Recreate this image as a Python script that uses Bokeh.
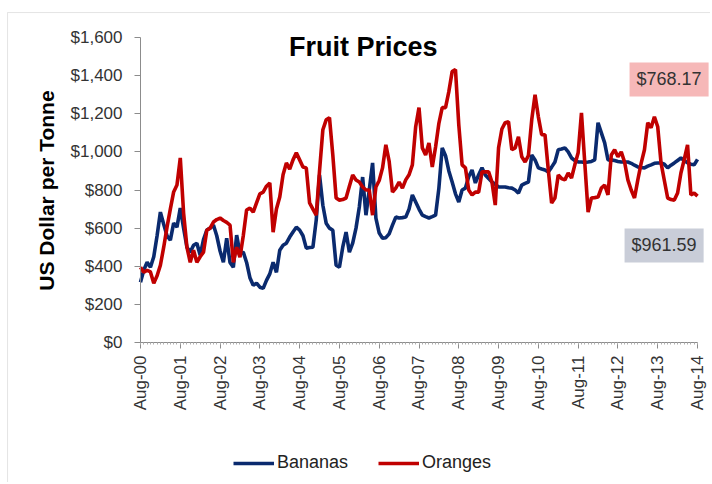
from bokeh.plotting import figure
from bokeh.models import (Range1d, FixedTicker, NumeralTickFormatter, Legend, LegendItem, Label, BoxAnnotation,
                          ColumnDataSource)
from bokeh.core.properties import value
from bokeh.embed import file_html
from bokeh.resources import INLINE
import math

# ---- data (monthly, Aug-2000 .. Aug-2014) ----
bananas = [316, 380, 421, 395, 450, 560, 684, 620, 560, 537, 626, 605, 705, 600, 500, 474, 510, 521, 458, 540,
           590, 600, 616, 560, 480, 421, 547, 420, 395, 563, 468, 474, 420, 340, 300, 311, 290, 284, 326, 360,
           421, 368, 484, 510, 521, 553, 580, 605, 590, 560, 495, 498, 500, 642, 879, 720, 626, 600, 589, 405,
           395, 500, 579, 474, 521, 600, 711, 868, 668, 800, 942, 653, 574, 547, 550, 570, 616, 658, 653, 655,
           658, 700, 774, 737, 700, 668, 660, 653, 660, 668, 810, 1021, 980, 900, 842, 780, 737, 800, 810, 870,
           905, 837, 880, 916, 879, 860, 842, 830, 816, 816, 816, 812, 810, 800, 784, 826, 835, 842, 984, 958,
           916, 910, 905, 895, 920, 947, 1011, 1015, 1021, 1000, 968, 955, 947, 947, 945, 947, 950, 958, 1153, 1100,
           1047, 958, 958, 955, 950, 947, 947, 947, 940, 930, 921, 918, 916, 925, 932, 940, 942, 942, 935, 916,
           930, 942, 955, 968, 955, 942, 935, 932, 961]
oranges = [395, 368, 379, 370, 311, 350, 405, 500, 605, 700, 790, 826, 968, 679, 500, 421, 484, 421, 450, 474,
           589, 600, 632, 645, 653, 640, 630, 616, 421, 500, 447, 560, 695, 705, 684, 732, 780, 789, 820, 837,
           579, 700, 763, 880, 942, 910, 958, 995, 958, 921, 916, 732, 700, 668, 900, 1116, 1168, 1179, 984, 758,
           747, 750, 758, 820, 879, 853, 842, 816, 800, 800, 668, 816, 850, 916, 1037, 950, 789, 810, 842, 810,
           853, 880, 932, 1132, 1232, 1021, 984, 1047, 921, 1026, 1150, 1232, 1232, 1316, 1421, 1432, 1142, 932, 916, 800,
           774, 789, 789, 895, 895, 895, 842, 721, 1021, 1120, 1153, 1158, 1011, 1021, 1079, 974, 947, 980, 1168, 1300,
           1184, 1090, 1090, 905, 732, 758, 879, 860, 853, 889, 863, 932, 995, 1205, 942, 684, 758, 760, 763, 810,
           826, 774, 984, 1011, 974, 1000, 947, 853, 800, 758, 853, 940, 1011, 1153, 1126, 1184, 1132, 942, 850, 758,
           750, 747, 784, 889, 960, 1037, 774, 784, 768]
months = list(range(len(bananas)))
tick_labels = ["Aug-00", "Aug-01", "Aug-02", "Aug-03", "Aug-04", "Aug-05", "Aug-06", "Aug-07",
               "Aug-08", "Aug-09", "Aug-10", "Aug-11", "Aug-12", "Aug-13", "Aug-14"]
y_ticks = [0, 200, 400, 600, 800, 1000, 1200, 1400, 1600]
last_labels = ["$768.17", "$961.59"]
last_label_colors = ["#f6b8b8", "#c9cdd8"]
last_label_x = [147.5, 146]
last_label_y = [1380, 509]

FONT = "Liberation Sans"
BLUE = "#0a2a6e"
RED = "#c00000"

# the frame covers the whole canvas; both axes sit at fixed data positions inside it
p = figure(width=710, height=482, output_backend="svg", toolbar_location=None,
           x_range=Range1d(-42.226, 171.92), y_range=Range1d(-734.4, 1794.1),
           min_border_left=0, min_border_right=0, min_border_top=0, min_border_bottom=0)
p.outline_line_color = None
p.xgrid.visible = False
p.ygrid.visible = False
p.background_fill_color = "white"
p.border_fill_color = "white"

# thin outer chart border (top and left edges visible in the reference)
p.add_layout(BoxAnnotation(left=-40.1, top=1731, right=220, bottom=-2000,
                           fill_alpha=0, line_color="#a6a6a6", line_width=1))

r1 = p.line(months, bananas, line_color=BLUE, line_width=3.6)
r2 = p.line(months, oranges, line_color=RED, line_width=3.6)

# x axis
xt = [i * 12 for i in range(len(tick_labels))]
p.xaxis.fixed_location = 0
p.xaxis.bounds = (0, 168)
p.xaxis.ticker = FixedTicker(ticks=xt, minor_ticks=months)
p.xaxis.major_label_overrides = {t: lab for t, lab in zip(xt, tick_labels)}
p.xaxis.major_label_orientation = math.pi / 2
p.xaxis.major_label_text_font = FONT
p.xaxis.major_label_text_font_size = "17px"
p.xaxis.major_label_text_color = "#333333"
p.xaxis.axis_line_color = "#8c8c8c"
p.xaxis.major_tick_line_color = "#8c8c8c"
p.xaxis.minor_tick_line_color = "#b0b0b0"
p.xaxis.major_tick_out = 6
p.xaxis.major_tick_in = 0
p.xaxis.minor_tick_out = 2
p.xaxis.minor_tick_in = 0
p.xaxis.major_label_standoff = 7

# y axis
p.yaxis.fixed_location = 0
p.yaxis.bounds = (0, 1600)
p.yaxis.ticker = FixedTicker(ticks=y_ticks)
p.yaxis.formatter = NumeralTickFormatter(format="$0,0")
p.yaxis.major_label_text_font = FONT
p.yaxis.major_label_text_font_size = "17px"
p.yaxis.major_label_text_color = "#333333"
p.yaxis.axis_line_color = "#8c8c8c"
p.yaxis.major_tick_line_color = "#8c8c8c"
p.yaxis.minor_tick_line_color = None
p.yaxis.major_tick_out = 6
p.yaxis.major_tick_in = 0
p.yaxis.major_label_standoff = 12

# y axis title
p.add_layout(Label(x=-28.35, y=797, text="US Dollar per Tonne", angle=math.pi / 2,
                   text_align="center", text_baseline="middle",
                   text_font=FONT, text_font_style="bold", text_font_size="21px", text_color="black"))

# chart title
p.add_layout(Label(x=67.2, y=1548, text="Fruit Prices", text_align="center", text_baseline="middle",
                   text_font=FONT, text_font_style="bold", text_font_size="27px", text_color="black"))

# value boxes (text glyphs with a background)
vsrc = ColumnDataSource(dict(x=last_label_x, y=last_label_y, text=last_labels, bg=last_label_colors))
p.text(x="x", y="y", text="text", source=vsrc, text_align="left", text_baseline="middle",
       text_font=value(FONT), text_font_size="18px", text_color="#333333",
       background_fill_color="bg", padding=7)

legend = Legend(items=[LegendItem(label="Bananas", renderers=[r1]),
                       LegendItem(label="Oranges", renderers=[r2])],
                orientation="horizontal", location=(233, 9),
                label_text_font=FONT, label_text_font_size="18px", label_text_color="#222222",
                glyph_width=41, glyph_height=18, spacing=30, label_standoff=3,
                border_line_color=None, background_fill_alpha=0, margin=0, padding=4)
p.add_layout(legend, "center")

open("out.html", "w").write(file_html(p, INLINE))
